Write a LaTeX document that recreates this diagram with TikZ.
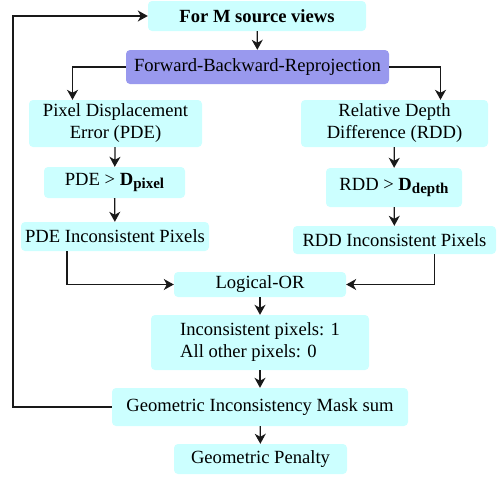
\documentclass[tikz,border=0pt]{standalone}
\usepackage{fontspec}
\setmainfont{Liberation Serif}
\usetikzlibrary{arrows.meta}
\definecolor{boxc}{RGB}{204,255,255}
\definecolor{purp}{RGB}{153,153,238}
\newcommand{\mysub}[1]{\raisebox{-2.5pt}{\fontsize{15}{15}\selectfont\bfseries #1}}
\tikzset{
  box/.style={fill=boxc, rounded corners=4pt, inner sep=0pt, font=\fontsize{18.6}{22}\selectfont, align=center},
  pbox/.style={box, fill=purp},
  arr/.style={-{Stealth[length=10pt,width=11pt,inset=3pt]}, line width=1.3pt, draw=black!90},
  ln/.style={line width=1.3pt, draw=black!90}
}
\begin{document}
\begin{tikzpicture}[x=1pt,y=-1pt]
\useasboundingbox (0,0) rectangle (498,479);
\node[box, minimum width=218pt, minimum height=30pt] (src) at (257,16) {\textbf{For M source views}};
\node[pbox, minimum width=263pt, minimum height=34pt] (fbr) at (257.5,67) {Forward-Backward-Reprojection};
\node[box, minimum width=173pt, minimum height=47pt] (pde) at (115.5,123.5) {Pixel Displacement\\Error (PDE)};
\node[box, minimum width=187pt, minimum height=47pt] (rdd) at (394.5,123.5) {Relative Depth\\Difference (RDD)};
\node[box, minimum width=141pt, minimum height=31pt] (pdet) at (114.5,182.5) {PDE > \textbf{D}\mysub{pixel}};
\node[box, minimum width=136pt, minimum height=39pt] (rddt) at (394,187.5) {RDD > \textbf{D}\mysub{depth}};
\node[box, minimum width=188pt, minimum height=29pt] (pdei) at (115,236.5) {PDE Inconsistent Pixels};
\node[box, minimum width=203pt, minimum height=28pt] (rddi) at (394.5,240) {RDD Inconsistent Pixels};
\node[box, minimum width=172pt, minimum height=25pt] (lor) at (260,284.5) {Logical-OR};
\node[box, minimum width=218pt, minimum height=55pt, align=left] (inc) at (260,342.5) {Inconsistent pixels: 1\\All other pixels: 0};
\node[box, minimum width=296pt, minimum height=38pt] (gim) at (260,407) {Geometric Inconsistency Mask sum};
\node[box, minimum width=173pt, minimum height=30pt] (gp) at (260.5,459) {Geometric Penalty};

\draw[arr] (src) -- (fbr);
\draw[arr] (fbr.west) -| ([xshift=-43pt]pde.north);
\draw[arr] (fbr.east) -| ([xshift=46pt]rdd.north);
\draw[arr] (pde) -- (pdet);
\draw[arr] (rdd) -- (rddt);
\draw[arr] (pdet) -- (pdei);
\draw[arr] (rddt) -- (rddi);
\draw[arr] ([xshift=-48pt]pdei.south) |- (lor.west);
\draw[arr] ([xshift=40pt]rddi.south) |- (lor.east);
\draw[arr] (lor) -- (inc);
\draw[arr] (inc) -- (gim);
\draw[arr] (gim) -- (gp);
\coordinate (lx) at (13,0);
\draw[arr] (gim.west) -| (lx |- gim.west) |- (src.west);
\end{tikzpicture}
\end{document}
